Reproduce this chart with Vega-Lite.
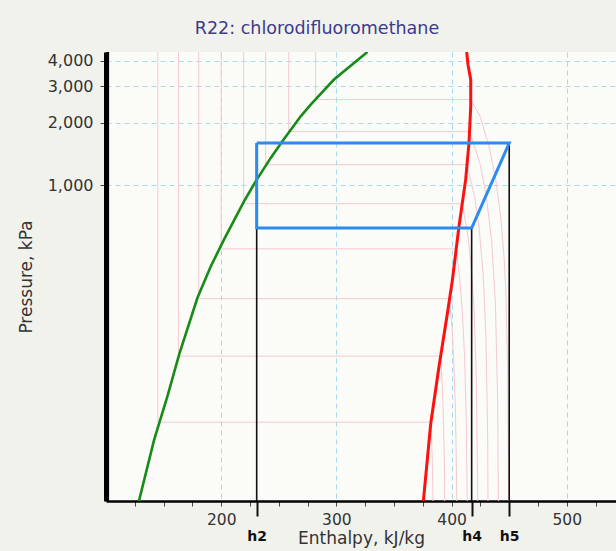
{
  "$schema": "https://vega.github.io/schema/vega-lite/v6.json",
  "width": 510,
  "height": 449,
  "autosize": {"type": "none"},
  "padding": {"left": 106, "top": 52, "right": 0, "bottom": 50},
  "background": "#f2f2ed",
  "config": {"view": {"fill": "#fbfbf8", "stroke": null}, "font": "DejaVu Sans"},
  "title": {"text": "R22: chlorodifluoromethane", "fontSize": 17.5, "font": "DejaVu Sans", "fontWeight": "normal", "color": "#3b3b8c", "anchor": "middle", "dx": -44, "offset": 13},
  "datasets": {
    "sl": [
      {"s": 1, "h": 128.6, "P": 30}, {"s": 2, "h": 141.7, "P": 59}, {"s": 3, "h": 153.3, "P": 96},
      {"s": 4, "h": 163.4, "P": 152}, {"s": 5, "h": 179.3, "P": 286}, {"s": 6, "h": 190.9, "P": 406},
      {"s": 7, "h": 202.4, "P": 547}, {"s": 8, "h": 219.8, "P": 837}, {"s": 9, "h": 229.9, "P": 1045},
      {"s": 10, "h": 243, "P": 1357}, {"s": 11, "h": 253.1, "P": 1632}, {"s": 12, "h": 269, "P": 2154},
      {"s": 13, "h": 277.7, "P": 2454}, {"s": 14, "h": 297.9, "P": 3241}, {"s": 15, "h": 326.9, "P": 4400}
    ],
    "sv": [
      {"s": 1, "h": 375.5, "P": 30}, {"s": 2, "h": 381.9, "P": 71}, {"s": 3, "h": 389.1, "P": 134},
      {"s": 4, "h": 396.4, "P": 242}, {"s": 5, "h": 400.7, "P": 350}, {"s": 6, "h": 406.4, "P": 634},
      {"s": 7, "h": 412.2, "P": 1065}, {"s": 8, "h": 415.1, "P": 1603}, {"s": 9, "h": 416.6, "P": 2408},
      {"s": 10, "h": 416.6, "P": 3241}, {"s": 11, "h": 414.2, "P": 3829}, {"s": 12, "h": 413.1, "P": 4400}
    ],
    "iso": [
      {"iso": "A", "s": 1, "h": 282, "P": 4400}, {"iso": "A", "s": 2, "h": 282, "P": 2595}, {"iso": "A", "s": 3, "h": 416.6, "P": 2595},
      {"iso": "A", "s": 4, "h": 424.7, "P": 2154}, {"iso": "A", "s": 5, "h": 432.5, "P": 1543}, {"iso": "A", "s": 6, "h": 438.3, "P": 1065},
      {"iso": "A", "s": 7, "h": 442.6, "P": 708}, {"iso": "A", "s": 8, "h": 445.5, "P": 454}, {"iso": "A", "s": 9, "h": 447, "P": 321},
      {"iso": "A", "s": 10, "h": 448.5, "P": 150}, {"iso": "A", "s": 11, "h": 449.5, "P": 30},
      {"iso": "B", "s": 1, "h": 258.6, "P": 4400}, {"iso": "B", "s": 2, "h": 258.6, "P": 1817}, {"iso": "B", "s": 3, "h": 415.5, "P": 1817},
      {"iso": "B", "s": 4, "h": 424.7, "P": 1272}, {"iso": "B", "s": 5, "h": 429.8, "P": 909}, {"iso": "B", "s": 6, "h": 434.7, "P": 545},
      {"iso": "B", "s": 7, "h": 438, "P": 273}, {"iso": "B", "s": 8, "h": 440, "P": 91}, {"iso": "B", "s": 9, "h": 440.6, "P": 30},
      {"iso": "C", "s": 1, "h": 238.6, "P": 4400}, {"iso": "C", "s": 2, "h": 238.6, "P": 1259}, {"iso": "C", "s": 3, "h": 413.3, "P": 1259},
      {"iso": "C", "s": 4, "h": 420, "P": 881}, {"iso": "C", "s": 5, "h": 423.8, "P": 630}, {"iso": "C", "s": 6, "h": 427.3, "P": 378},
      {"iso": "C", "s": 7, "h": 429.8, "P": 189}, {"iso": "C", "s": 8, "h": 431.3, "P": 63}, {"iso": "C", "s": 9, "h": 431.6, "P": 30},
      {"iso": "D", "s": 1, "h": 219.5, "P": 4400}, {"iso": "D", "s": 2, "h": 219.5, "P": 816}, {"iso": "D", "s": 3, "h": 409.2, "P": 816},
      {"iso": "D", "s": 4, "h": 414.2, "P": 571}, {"iso": "D", "s": 5, "h": 417, "P": 408}, {"iso": "D", "s": 6, "h": 419.6, "P": 245},
      {"iso": "D", "s": 7, "h": 421.4, "P": 122}, {"iso": "D", "s": 8, "h": 422.5, "P": 41}, {"iso": "D", "s": 9, "h": 422.6, "P": 30},
      {"iso": "E", "s": 1, "h": 200, "P": 4400}, {"iso": "E", "s": 2, "h": 200, "P": 494}, {"iso": "E", "s": 3, "h": 404, "P": 494},
      {"iso": "E", "s": 4, "h": 407.2, "P": 346}, {"iso": "E", "s": 5, "h": 409.3, "P": 247}, {"iso": "E", "s": 6, "h": 411.3, "P": 148},
      {"iso": "E", "s": 7, "h": 412.7, "P": 74}, {"iso": "E", "s": 8, "h": 413.6, "P": 30},
      {"iso": "F", "s": 1, "h": 180.5, "P": 4400}, {"iso": "F", "s": 2, "h": 180.5, "P": 284}, {"iso": "F", "s": 3, "h": 398.3, "P": 284},
      {"iso": "F", "s": 4, "h": 400.5, "P": 199}, {"iso": "F", "s": 5, "h": 401.9, "P": 142}, {"iso": "F", "s": 6, "h": 403.25, "P": 85},
      {"iso": "F", "s": 7, "h": 404.2, "P": 43}, {"iso": "F", "s": 8, "h": 404.4, "P": 30},
      {"iso": "G", "s": 1, "h": 163, "P": 4400}, {"iso": "G", "s": 2, "h": 163, "P": 150}, {"iso": "G", "s": 3, "h": 390.5, "P": 150},
      {"iso": "G", "s": 4, "h": 392, "P": 105}, {"iso": "G", "s": 5, "h": 392.9, "P": 75}, {"iso": "G", "s": 6, "h": 393.8, "P": 45},
      {"iso": "G", "s": 7, "h": 394, "P": 30},
      {"iso": "H", "s": 1, "h": 145, "P": 4400}, {"iso": "H", "s": 2, "h": 145, "P": 72}, {"iso": "H", "s": 3, "h": 382, "P": 72},
      {"iso": "H", "s": 4, "h": 383.1, "P": 50}, {"iso": "H", "s": 5, "h": 383.7, "P": 36}, {"iso": "H", "s": 6, "h": 383.8, "P": 30}
    ],
    "cycle": [
      {"s": 1, "h": 230.8, "P": 1600}, {"s": 2, "h": 450, "P": 1600}, {"s": 3, "h": 417.4, "P": 622},
      {"s": 4, "h": 230.8, "P": 622}, {"s": 5, "h": 230.8, "P": 1600}
    ],
    "pts": [
      {"name": "h2", "h": 230.8, "P": 1600, "Pb": 30},
      {"name": "h4", "h": 417.4, "P": 622, "Pb": 30},
      {"name": "h5", "h": 450, "P": 1600, "Pb": 30},
      {"name": "edge", "h": 101.3, "P": 4400, "Pb": 30}
    ]
  },
  "encoding": {
    "y": {
      "field": "P", "type": "quantitative",
      "scale": {"type": "log", "domain": [30, 4400], "nice": false},
      "axis": {
        "values": [1000, 2000, 3000, 4000], "format": ",", "title": "Pressure, kPa",
        "titleFontSize": 17, "titleFontWeight": "normal", "titleColor": "#333333", "titlePadding": 12,
        "labelFontSize": 16, "labelColor": "#333333", "labelPadding": 7, "tickSize": 5, "tickColor": "#444444",
        "domain": true, "domainColor": "#000000", "domainWidth": 3, "offset": 1,
        "grid": true, "gridColor": "#a9d9ee", "gridDash": [5, 4], "gridWidth": 1
      }
    }
  },
  "layer": [
    {
      "data": {"name": "iso"},
      "mark": {"type": "line", "color": "#f5c8d2", "strokeWidth": 1, "clip": true},
      "encoding": {
        "x": {
          "field": "h", "type": "quantitative",
          "scale": {"domain": [100, 542.7], "nice": false, "zero": false},
          "axis": {
            "values": [125, 150, 175, 200, 225, 250, 275, 300, 325, 350, 375, 400, 425, 450, 475, 500, 525],
            "labelExpr": "datum.value % 100 == 0 ? datum.label : ''",
            "title": "Enthalpy, kJ/kg", "titleFontSize": 17, "titleFontWeight": "normal", "titleColor": "#333333", "titlePadding": 3,
            "labelFontSize": 15.5, "labelColor": "#333333", "labelPadding": 6, "tickSize": 5, "tickColor": "#444444",
            "domainColor": "#000000", "domainWidth": 2.5,
            "grid": true, "gridColor": "#a9d9ee", "gridDash": [5, 4], "gridWidth": 1,
            "gridOpacity": {"condition": {"test": "datum.value % 100 == 0", "value": 1}, "value": 0}
          }
        },
        "detail": {"field": "iso"},
        "order": {"field": "s", "type": "quantitative"}
      }
    },
    {
      "data": {"name": "sl"},
      "mark": {"type": "line", "color": "#178a17", "strokeWidth": 2.6, "clip": true},
      "encoding": {
        "x": {"field": "h", "type": "quantitative", "scale": {"domain": [100, 542.7], "nice": false, "zero": false}, "axis": null},
        "order": {"field": "s", "type": "quantitative"}
      }
    },
    {
      "data": {"name": "sv"},
      "mark": {"type": "line", "color": "#ff1010", "strokeWidth": 3, "clip": true},
      "encoding": {
        "x": {"field": "h", "type": "quantitative", "scale": {"domain": [100, 542.7], "nice": false, "zero": false}, "axis": null},
        "order": {"field": "s", "type": "quantitative"}
      }
    },
    {
      "data": {"name": "pts"},
      "mark": {"type": "rule", "color": "#111111"},
      "encoding": {
        "x": {
          "field": "h", "type": "quantitative",
          "scale": {"domain": [100, 542.7], "nice": false, "zero": false},
          "axis": {
            "orient": "bottom", "values": [230.8, 417.4, 450],
            "labelExpr": "datum.value < 300 ? 'h2' : (datum.value < 430 ? 'h4' : 'h5')",
            "labelFontWeight": "bold", "labelFontSize": 14, "labelColor": "#111111", "labelPadding": 13,
            "tickSize": 15, "tickWidth": 2, "tickColor": "#111111",
            "domain": false, "grid": false, "title": null
          }
        },
        "y2": {"field": "Pb"},
        "strokeWidth": {"condition": {"test": "datum.name == 'edge'", "value": 3.2}, "value": 1.6},
        "color": {"condition": {"test": "datum.name == 'edge'", "value": "#000000"}, "value": "#111111"}
      }
    },
    {
      "data": {"name": "cycle"},
      "mark": {"type": "line", "color": "#2b8cee", "strokeWidth": 3, "clip": true},
      "encoding": {
        "x": {"field": "h", "type": "quantitative", "scale": {"domain": [100, 542.7], "nice": false, "zero": false}, "axis": null},
        "order": {"field": "s", "type": "quantitative"}
      }
    }
  ],
  "resolve": {"axis": {"x": "independent"}}
}
